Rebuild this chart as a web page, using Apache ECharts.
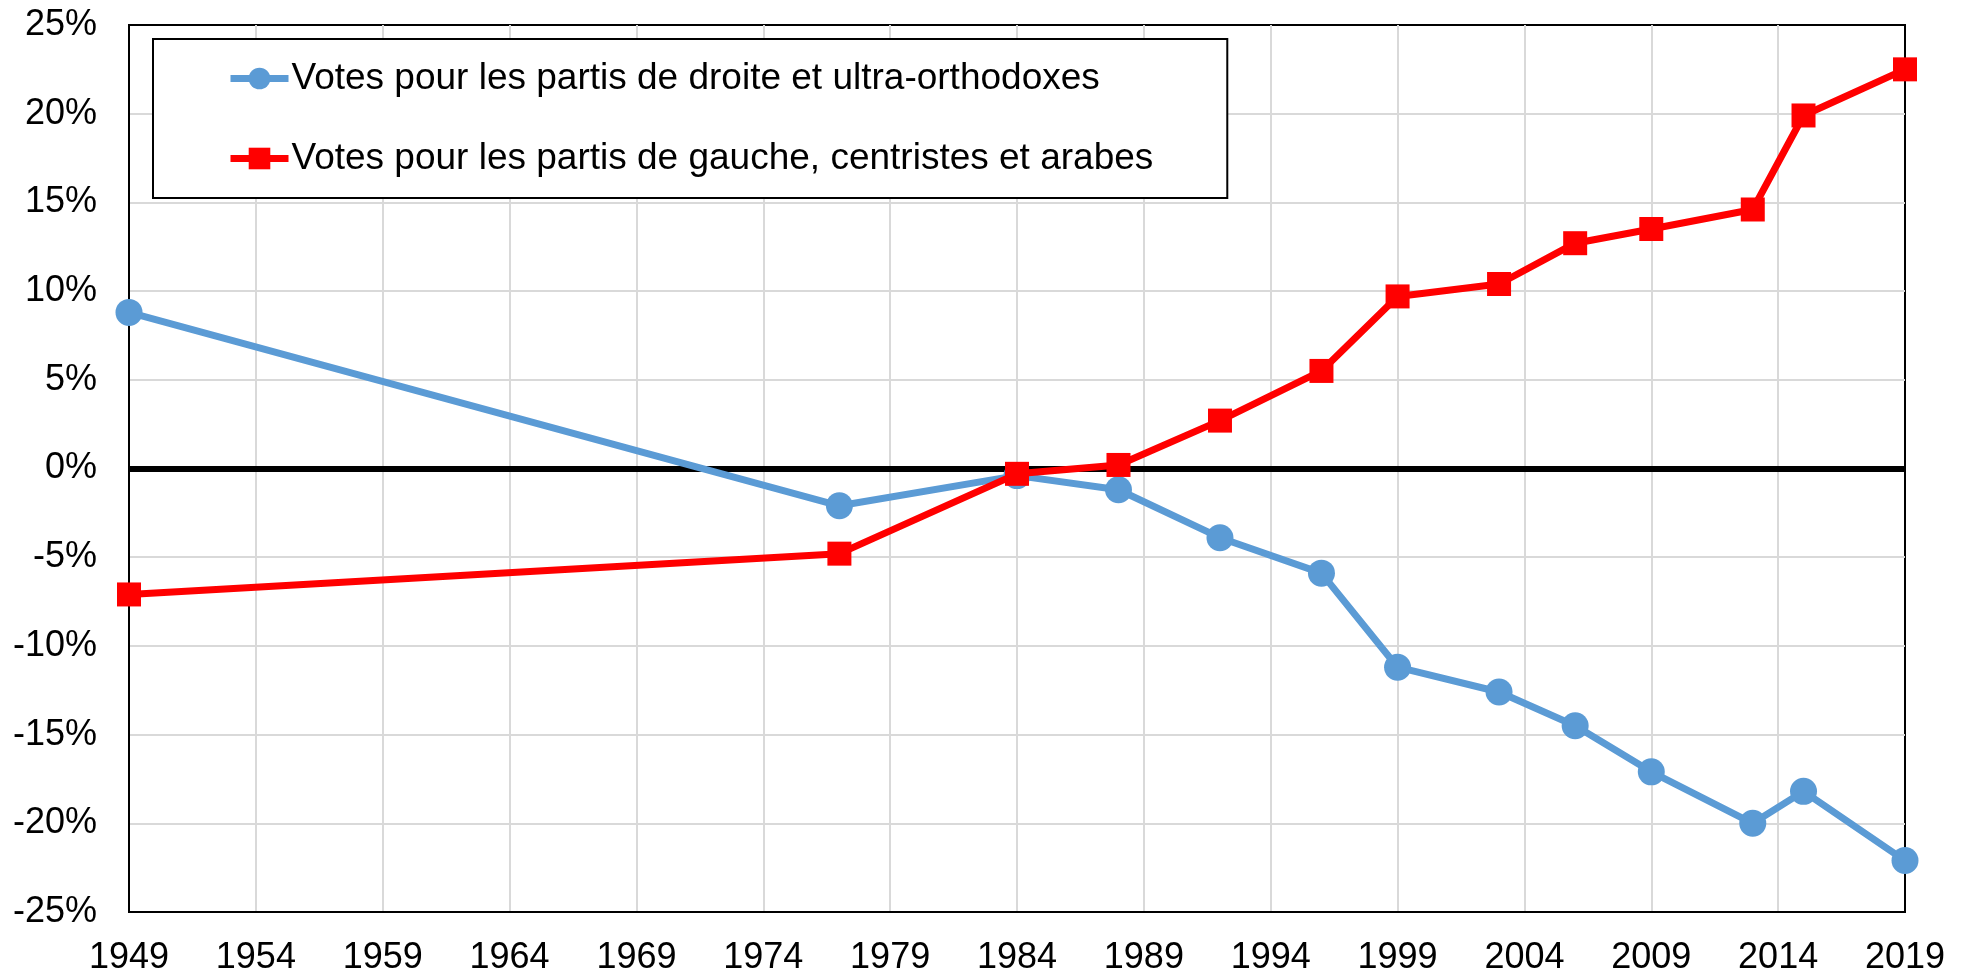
<!DOCTYPE html>
<html>
<head>
<meta charset="utf-8">
<script src="https://cdn.jsdelivr.net/npm/echarts@6/dist/echarts.min.js"></script>
<style>
html,body{margin:0;padding:0;background:#fff;}
#chart{width:1968px;height:976px;}
</style>
</head>
<body>
<div id="chart"></div>
<script>
const years = [1949, 1977, 1984, 1988, 1992, 1996, 1999, 2003, 2006, 2009, 2013, 2015, 2019];
const droiteValues = [8.8, -2.1, -0.4, -1.2, -3.9, -5.9, -11.2, -12.6, -14.5, -17.1, -20.0, -18.2, -22.1];
const gaucheValues = [-7.1, -4.8, -0.3, 0.2, 2.7, 5.5, 9.7, 10.4, 12.7, 13.5, 14.6, 19.9, 22.5];
const seriesNames = [
  'Votes pour les partis de droite et ultra-orthodoxes',
  'Votes pour les partis de gauche, centristes et arabes'
];

const font = 'Liberation Sans, Arial, sans-serif';
const chart = echarts.init(document.getElementById('chart'), null, {renderer: 'canvas'});

function pairs(xs, ys) { return xs.map((x, i) => [x, ys[i]]); }

chart.setOption({
  animation: false,
  backgroundColor: '#fff',
  grid: {
    left: 129, right: 63, top: 25, bottom: 62,
    show: true, borderColor: '#000', borderWidth: 2, backgroundColor: 'transparent'
  },
  legend: {
    orient: 'vertical',
    left: 153, top: 39,
    padding: [21, 74, 21, 74],
    itemGap: 43,
    itemWidth: 58, itemHeight: 27,
    backgroundColor: '#fff',
    borderColor: '#000', borderWidth: 2,
    lineStyle: {width: 7},
    textStyle: {fontFamily: font, fontSize: 37, color: '#000', padding: [0, 0, 0, -2]},
    data: seriesNames
  },
  xAxis: {
    type: 'value',
    min: 1949, max: 2019, interval: 5,
    axisLine: {show: true, onZero: false, lineStyle: {color: '#000', width: 2}},
    axisTick: {show: false},
    axisLabel: {fontFamily: font, fontSize: 36, color: '#000', margin: 28,
      formatter: function (v) { return String(v); }},
    splitLine: {show: true, showMinLine: false, showMaxLine: false, lineStyle: {color: '#d9d9d9', width: 2}}
  },
  yAxis: {
    type: 'value',
    min: -25, max: 25, interval: 5,
    axisLine: {show: true, lineStyle: {color: '#000', width: 2}},
    axisTick: {show: false},
    axisLabel: {fontFamily: font, fontSize: 36, color: '#000', margin: 32, formatter: '{value}%'},
    splitLine: {show: true, showMinLine: false, showMaxLine: false, lineStyle: {color: '#d9d9d9', width: 2}}
  },
  series: [
    {
      name: seriesNames[0],
      type: 'line',
      data: pairs(years, droiteValues),
      symbol: 'circle', symbolSize: 27,
      lineStyle: {color: '#5b9bd5', width: 7},
      itemStyle: {color: '#5b9bd5'},
      z: 3,
      markLine: {
        silent: true, symbol: 'none', label: {show: false},
        lineStyle: {color: '#000', width: 6, type: 'solid'},
        data: [{yAxis: 0}],
        z: 1
      }
    },
    {
      name: seriesNames[1],
      type: 'line',
      data: pairs(years, gaucheValues),
      symbol: 'rect', symbolSize: 24,
      lineStyle: {color: '#ff0000', width: 7},
      itemStyle: {color: '#ff0000'},
      z: 4
    }
  ]
});
</script>
</body>
</html>
